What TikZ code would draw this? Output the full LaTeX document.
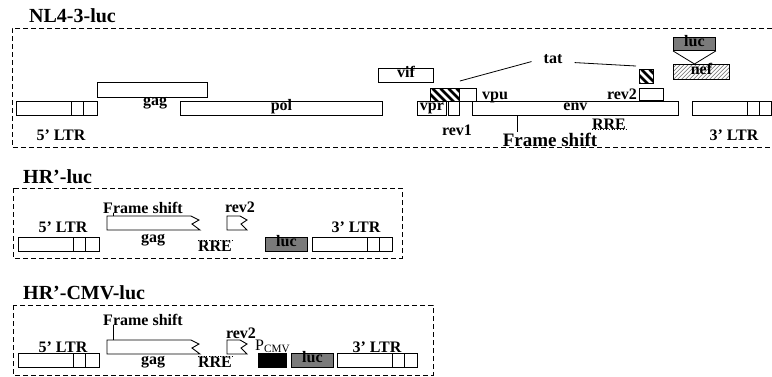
\documentclass[tikz,border=0pt]{standalone}
\usepackage{fontspec}
\setmainfont{Liberation Serif}
\usetikzlibrary{calc}
\definecolor{lucgray}{RGB}{122,122,122}

\begin{document}
\begin{tikzpicture}[x=1pt, y=-1pt,
  lbl/.style={font=\fontsize{16}{18}\selectfont\bfseries, inner sep=0pt, anchor=base},
  big/.style={font=\fontsize{19}{22}\selectfont\bfseries},
  ttl/.style={font=\fontsize{20}{23}\selectfont\bfseries, inner sep=0pt, anchor=base west},
  box/.style={draw, line width=0.9pt, inner sep=0pt, anchor=north west,
    font=\fontsize{16}{18}\selectfont\bfseries, text height=0.6em, text depth=0.15em},
  panel/.style={line width=0.9pt, dash pattern=on 5pt off 3pt},
  seg/.style={line width=0.8pt},
  gene/.style={line width=0.9pt},
  boldhatch/.style={path picture={
    \foreach \i in {-30,-22,...,40}
      \draw[line width=2.6pt] ([xshift=\i pt]path picture bounding box.north west) -- ++(24pt,-24pt);}},
  thinhatch/.style={path picture={
    \foreach \i in {-24,-20,...,64}
      \draw[gray, line width=0.6pt] ([xshift=\i pt]path picture bounding box.south west) -- ++(20pt,20pt);}}
]
  \useasboundingbox (0,0) rectangle (772,376);

  % NL4-3-luc
  \node[ttl] (tA) at (29,22) {NL4-3-luc};
  \draw[panel] (772,28) -- (12,28) -- (12,147) -- (772,147);
  \node[box, minimum width=81pt, minimum height=14pt]  (ltrA5) at (16,101) {};
  \node[box, minimum width=110pt, minimum height=15pt] (gagA)  at (97,82)  {};
  \node[box, minimum width=202pt, minimum height=14pt] (polA)  at (180,101) {pol};
  \node[box, minimum width=55pt, minimum height=14pt]  (vifA)  at (378,68) {vif};
  \node[box, minimum width=29pt, minimum height=14pt]  (vprA)  at (417,101) {vpr};
  \node[box, boldhatch, minimum width=29pt, minimum height=13pt] (tatA1) at (430,88) {};
  \node[box, minimum width=17pt, minimum height=13pt]  (vpuA)  at (459,88) {};
  \node[box, minimum width=11pt, minimum height=14pt]  (rev1A) at (448,101) {};
  \node[box, minimum width=206pt, minimum height=14pt] (envA)  at (472,101) {env};
  \node[box, minimum width=24pt, minimum height=12pt]  (rev2A) at (639,88) {};
  \node[box, boldhatch, minimum width=14pt, minimum height=14pt] (tatA2) at (639,69) {};
  \node[box, fill=lucgray, minimum width=42pt, minimum height=13pt] (lucA) at (673,37) {luc};
  \node[box, thinhatch, minimum width=56pt, minimum height=15pt] (nefA) at (673,64) {nef};
  \node[box, minimum width=79pt, minimum height=14pt]  (ltrA3) at (692,101) {};

  \node[lbl] (ltrA5l) at (61,140)  {5’ LTR};
  \node[lbl] (gagAl)  at (155,105) {gag};
  \node[lbl] (vpuAl)  at (495,99)  {vpu};
  \node[lbl] (rev1Al) at (457,135) {rev1};
  \node[lbl] (rev2Al) at (622,99)  {rev2};
  \node[lbl] (rreA)   at (609,129) {RRE};
  \node[lbl, big] (fsA) at (550,146) {Frame shift};
  \node[lbl, inner xsep=12pt] (tat) at (553,63) {tat};
  \node[lbl] (ltrA3l) at (734,140) {3’ LTR};

  \draw[seg] ([yshift=7pt]tatA1.north east) -- ([yshift=-3pt]tat.west);
  \draw[seg] ([yshift=-4pt]tat.east) -- ([shift={(-3pt,3pt)}]tatA2.north west);
  \coordinate (vA) at (lucA.south |- nefA.north);
  \draw[seg] (lucA.south west) -- (vA) -- (lucA.south east);
  \draw[seg] ([xshift=45pt]envA.south west) -- ([xshift=45pt]envA.south west |- fsA.north);
  \draw[dotted, line width=0.8pt] (rreA.south west) -- (rreA.south east);

  % HR'-luc
  \node[ttl] (tB) at (23,183) {HR’-luc};
  \draw[panel] (13,188) rectangle (402,258);
  \node[box, minimum width=81pt, minimum height=14pt] (ltrB5) at (18,237) {};
  \coordinate (gagB) at (107,216);
  \draw[gene] (gagB) -- ++(84,0) -- ++(8,4) -- ++(-7,4) -- ++(8,6) -- ++(-93,0) -- cycle;
  \coordinate (rev2B) at (227,216);
  \draw[gene] (rev2B) -- ++(13,0) -- ++(7,4) -- ++(-6,4) -- ++(6,6) -- ++(-20,0) -- cycle;
  \node[box, fill=lucgray, minimum width=42pt, minimum height=14pt] (lucB) at (265,237) {luc};
  \node[box, minimum width=80pt, minimum height=14pt] (ltrB3) at (312,237) {};

  \node[lbl] (ltrB5l) at (63,232)  {5’ LTR};
  \node[lbl] (fsB)    at (143,213) {Frame shift};
  \node[lbl] (gagBl)  at (153,242) {gag};
  \node[lbl] (rev2Bl) at (240,212) {rev2};
  \node[lbl] (rreB)   at (215,251) {RRE};
  \node[lbl] (ltrB3l) at (356,232) {3’ LTR};
  \draw[seg] ([xshift=6pt]gagB) -- ([xshift=6pt]gagB |- fsB.base);
  \draw[dotted, line width=0.8pt] (rreB.north west) -- (rreB.north east);

  % HR'-CMV-luc
  \node[ttl] (tC) at (23,299) {HR’-CMV-luc};
  \draw[panel] (13,305) rectangle (433,375);
  \node[box, minimum width=81pt, minimum height=14pt] (ltrC5) at (18,353) {};
  \coordinate (gagC) at (107,340);
  \draw[gene] (gagC) -- ++(84,0) -- ++(8,4) -- ++(-7,4) -- ++(8,6) -- ++(-93,0) -- cycle;
  \coordinate (rev2C) at (227,340);
  \draw[gene] (rev2C) -- ++(13,0) -- ++(7,4) -- ++(-6,4) -- ++(6,6) -- ++(-20,0) -- cycle;
  \node[box, fill=black, minimum width=28pt, minimum height=14pt] (cmvC) at (258,353) {};
  \node[box, fill=lucgray, minimum width=42pt, minimum height=14pt] (lucC) at (291,353) {luc};
  \node[box, minimum width=80pt, minimum height=14pt] (ltrC3) at (337,353) {};

  \node[lbl] (ltrC5l) at (63,352)  {5’ LTR};
  \node[lbl] (fsC)    at (143,325) {Frame shift};
  \node[lbl] (gagCl)  at (153,364) {gag};
  \node[lbl] (rev2Cl) at (241,338) {rev2};
  \node[lbl] (rreC)   at (215,367) {RRE};
  \node[lbl, anchor=base west, font=\fontsize{16}{18}\selectfont] (pcmv) at (255,350) {P\textsubscript{CMV}};
  \node[lbl] (ltrC3l) at (377,352) {3’ LTR};
  \draw[seg] ([xshift=6pt]gagC) -- ([xshift=6pt]gagC |- fsC.base);
  \draw[dotted, line width=0.8pt] (rreC.north west) -- (rreC.north east);

  % LTR dividers
  \foreach \n in {ltrA5, ltrA3, ltrB5, ltrB3, ltrC5, ltrC3}
    \foreach \d in {55, 67}
      \draw[gene] ([xshift=\d pt]\n.north west) -- ([xshift=\d pt]\n.south west);
\end{tikzpicture}
\end{document}
